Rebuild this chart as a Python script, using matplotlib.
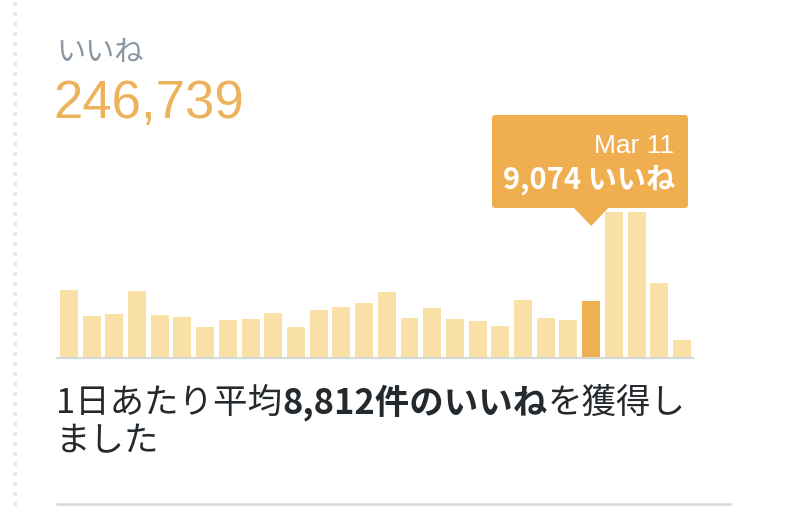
import matplotlib
matplotlib.use("Agg")
import matplotlib.pyplot as plt
from matplotlib.patches import FancyBboxPatch, Polygon
import numpy as np

# ---- data ----
days = list(range(1, 29))
likes = [10860, 6640, 6970, 10690, 6800, 6480, 4860, 5990, 6160, 7130,
         4860, 7610, 8100, 8750, 10530, 6320, 7940, 6160, 5830, 5020,
         9230, 6320, 5990, 9074, 23490, 23490, 11990, 2750]
highlight_index = 23
highlight_label = "Mar 11"
highlight_value = "9,074"
title_label = "いいね"
total_label = "246,739"
summary_parts = [("1日あたり平均", "normal"), ("8,812件のいいね", "bold"), ("を獲得し", "normal")]
summary_line2 = "ました"

W, H = 800, 507
fig = plt.figure(figsize=(W / 100, H / 100), dpi=100)
fig.patch.set_facecolor("white")

# overlay axes in pixel coordinates
ov = fig.add_axes([0, 0, 1, 1])
ov.set_xlim(0, W)
ov.set_ylim(H, 0)
ov.axis("off")

# chart axes
base_y, top_y = 357, 212
ax = fig.add_axes([56 / W, (H - base_y) / H, (694 - 56) / W, (base_y - top_y) / H])
ax.set_xlim(-0.57, len(likes) - 1 + 0.53)
ax.set_ylim(0, 23490)
ax.axis("off")

light = "#F8E0A6"
strong = "#EFB052"
colors = [strong if i == highlight_index else light for i in range(len(likes))]
ax.bar(np.arange(len(likes)), likes, width=0.79, color=colors, zorder=2, clip_on=False)

# baseline
ov.plot([56, 694], [358, 358], color="#D4D9DD", lw=1.6, solid_capstyle="butt")

# left dotted border
ys = np.arange(4, H, 10)
ov.scatter(np.full_like(ys, 15.5), ys, marker="s", s=9, color="#E8E8E8", linewidths=0)

# bottom divider
ov.plot([56, 732], [504, 504], color="#D4D9DD", lw=1.8, solid_capstyle="butt")

jp = ["Noto Sans CJK JP", "DejaVu Sans"]
lat = ["Liberation Sans", "Noto Sans CJK JP"]

# title + total
ov.text(56, 53, title_label, fontsize=21, color="#8A96A2", family=jp, va="center", ha="left")
ov.text(53, 104, total_label, fontsize=38, color="#EDB35C", family=lat, va="center", ha="left")

# tooltip
fig.canvas.draw()
tip_disp = ax.transData.transform((highlight_index, 0))
tip_x = tip_disp[0]
box = FancyBboxPatch((492 + 3, 115 + 3), 196 - 6, 93 - 6,
                     boxstyle="round,pad=3", fc="#EFAE4F", ec="none", zorder=5)
ov.add_patch(box)
ov.add_patch(Polygon([[tip_x - 18, 207], [tip_x + 18, 207], [tip_x, 226]],
                     closed=True, fc="#EFAE4F", ec="none", zorder=5))
ov.text(674, 146, highlight_label, fontsize=19, color="white", family=lat,
        ha="right", va="center", zorder=6)
ov.text(675, 180, highlight_value + " " + title_label, fontsize=21, color="white",
        family=jp, fontweight="bold", ha="right", va="center", zorder=6)

# summary text, pieces placed sequentially
renderer = fig.canvas.get_renderer()
x = 56
for txt, wt in summary_parts:
    t = ov.text(x, 403, txt, fontsize=24.8, color="#24292E", family=jp,
                fontweight=wt, ha="left", va="center")
    bb = t.get_window_extent(renderer=renderer)
    x = bb.x1
ov.text(56, 442, summary_line2, fontsize=24.8, color="#24292E", family=jp,
        ha="left", va="center")

fig.savefig("out.png", dpi=100, facecolor="white")
